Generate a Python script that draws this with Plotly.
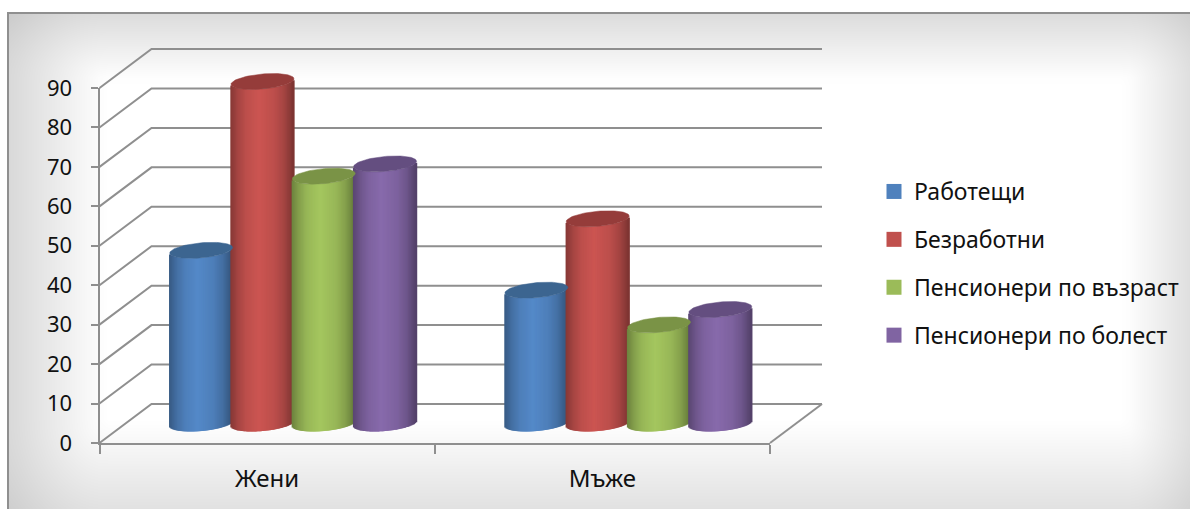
import numpy as np
import plotly.graph_objects as go

# Chart data
categories = ["Жени", "Мъже"]
series_names = ["Работещи", "Безработни", "Пенсионери по възраст", "Пенсионери по болест"]
rabotesti = [43.9, 33.8]
bezrabotni = [86.7, 51.9]
pens_vazrast = [62.7, 25.0]
pens_bolest = [65.8, 28.9]
series_values = [rabotesti, bezrabotni, pens_vazrast, pens_bolest]
y_ticks = [0, 10, 20, 30, 40, 50, 60, 70, 80, 90]

# Series colours: body base colour and darker cap colour
base_colors = ["#4F81BD", "#C0504D", "#9BBB59", "#8064A2"]
cap_colors = ["#3C6590", "#953C3A", "#7A9346", "#644E80"]

W, H = 1190, 509
FONT = "Noto Sans"
INK = "#111111"
RULE = "#8F8F8F"

# Plot rectangle in pixels, front plane of the oblique 3D box
PX_L, PX_R, PX_B, PX_T = 99.5, 770.0, 443.0, 88.0
X_MAX, Y_MAX = 2.0, 90.0
px_x = (PX_R - PX_L) / X_MAX
px_y = (PX_B - PX_T) / Y_MAX

# Wider drawing area for the box and cylinders, since lines clip to their subplot
PAD_L, PAD_R, PAD_B, PAD_T = 90.0, 830.0, 452.0, 40.0
ext_x = [(PAD_L - PX_L) / px_x, (PAD_R - PX_L) / px_x]
ext_y = [(PX_B - PAD_B) / px_y, (PX_B - PAD_T) / px_y]

# Box depth and cylinder proportions, in axis units
DEPTH_X = 52 / px_x
DEPTH_Y = 39 / px_y
SPACING = 61.3 / px_x
CYL_R = 29.6 / px_x
CYL_SKEW = 10.7 / px_x
CYL_B = 8.0 / px_y
HALF_W = float(np.hypot(CYL_R, CYL_SKEW))
N_STRIPS = 56

# Horizontal lighting across a cylinder body
shade_u = [0.0, 0.05, 0.12, 0.25, 0.45, 0.70, 0.85, 0.95, 1.0]
shade_k = [0.70, 0.76, 0.86, 0.98, 1.06, 0.98, 0.86, 0.72, 0.64]


def scaled(hex_color, k):
    rgb = [int(hex_color[i:i + 2], 16) for i in (1, 3, 5)]
    r, g, b = [min(255, int(round(c * k))) for c in rgb]
    return f"rgb({r},{g},{b})"


t0 = np.arctan2(CYL_SKEW, CYL_R)
arc = np.linspace(t0 + np.pi, t0 + 2 * np.pi, 200)
arc_x = CYL_R * np.cos(arc) + CYL_SKEW * np.sin(arc)
arc_y = CYL_B * np.sin(arc)
ring = np.linspace(0, 2 * np.pi, 90)
ring_x = CYL_R * np.cos(ring) + CYL_SKEW * np.sin(ring)
ring_y = CYL_B * np.sin(ring)

fig = go.Figure()

# Backdrop: white centre fading to grey towards the frame, with rounded contours
gx = np.linspace(8, W, 120)
gy = np.linspace(14, H, 56)
fx = np.clip((105 - gx) / 95, 0, 1) * 38 + np.clip((gx - 1125) / 65, 0, 1) * 32
fy = np.clip((80 - gy) / 66, 0, 1) * 35 + np.clip((gy - 420) / 89, 0, 1) * 30
backdrop = 255 - np.sqrt(fx[None, :] ** 2 + fy[:, None] ** 2)
fig.add_trace(go.Heatmap(
    x=gx, y=gy, z=backdrop, zmin=185, zmax=255, zsmooth="best", showscale=False,
    colorscale=[[0, "rgb(185,185,185)"], [1, "rgb(255,255,255)"]],
    hoverinfo="skip", xaxis="x", yaxis="y",
))

# Placeholder on the axis subplot so its labelled axes are drawn
fig.add_trace(go.Scatter(
    x=[None], y=[None], mode="lines", showlegend=False, hoverinfo="skip",
    xaxis="x2", yaxis="y2",
))

# Walls and floor of the box, behind the cylinders
for v in y_ticks:
    fig.add_trace(go.Scatter(
        x=[0, DEPTH_X, X_MAX + DEPTH_X], y=[v, v + DEPTH_Y, v + DEPTH_Y],
        mode="lines", line=dict(color=RULE, width=2),
        showlegend=False, hoverinfo="skip", xaxis="x3", yaxis="y3",
    ))
fig.add_trace(go.Scatter(
    x=[X_MAX, X_MAX + DEPTH_X], y=[0, DEPTH_Y],
    mode="lines", line=dict(color=RULE, width=2),
    showlegend=False, hoverinfo="skip", xaxis="x3", yaxis="y3",
))

# Cylinders: each body is a run of narrow shaded bars with a curved base, plus a cap
strip_u = (np.arange(N_STRIPS) + 0.5) / N_STRIPS
strip_w = 2 * HALF_W / N_STRIPS
strip_colors = np.interp(strip_u, shade_u, shade_k)
strip_dx = (strip_u - 0.5) * 2 * HALF_W
strip_low = np.interp(strip_dx, arc_x, arc_y)

for s, values in enumerate(series_values):
    offset = (s - 1.5) * SPACING
    for c, value in enumerate(values):
        cx = c + 0.5 + DEPTH_X / 2 + offset
        cy = DEPTH_Y / 2
        fig.add_trace(go.Bar(
            x=cx + strip_dx,
            y=[value] * N_STRIPS,
            base=cy + strip_low,
            width=strip_w * 2.2,
            marker=dict(color=[scaled(base_colors[s], k) for k in strip_colors],
                        line=dict(width=0)),
            showlegend=False, hoverinfo="skip", xaxis="x4", yaxis="y4",
        ))
        fig.add_trace(go.Scatter(
            x=cx + ring_x, y=cy + value + ring_y,
            mode="lines", fill="toself", fillcolor=cap_colors[s],
            line=dict(width=0.5, color=cap_colors[s]),
            showlegend=False, hoverinfo="skip", xaxis="x4", yaxis="y4",
        ))

# Legend entries
for s, name in enumerate(series_names):
    fig.add_trace(go.Scatter(
        x=[None], y=[None], mode="markers", name=name, legendgroup=name,
        marker=dict(symbol="square", size=15, color=base_colors[s], line=dict(width=0)),
        xaxis="x4", yaxis="y4",
    ))

dom_x = [PX_L / W, PX_R / W]
dom_y = [(H - PX_B) / H, (H - PX_T) / H]
ext_dom_x = [PAD_L / W, PAD_R / W]
ext_dom_y = [(H - PAD_B) / H, (H - PAD_T) / H]
hidden = dict(visible=False, fixedrange=True)

fig.update_layout(
    width=W, height=H, margin=dict(l=0, r=0, t=0, b=0, autoexpand=False),
    paper_bgcolor="white", plot_bgcolor="rgba(0,0,0,0)",
    barmode="overlay", hovermode=False,
    font=dict(family=FONT, color=INK, size=21),
    xaxis=dict(domain=[8.5 / W, 1], range=[8.5, W], showgrid=False, zeroline=False,
               showticklabels=False, ticks="", showline=True, side="top",
               linecolor=RULE, linewidth=2, fixedrange=True),
    yaxis=dict(domain=[0, 1 - 14 / H], range=[H, 14], showgrid=False, zeroline=False,
               showticklabels=False, ticks="", showline=True, side="left",
               linecolor=RULE, linewidth=2, fixedrange=True),
    xaxis2=dict(domain=dom_x, range=[0, X_MAX], anchor="y2", showgrid=False, zeroline=False,
                showline=True, linecolor=RULE, linewidth=2,
                tickmode="array", tickvals=[0.5, 1.5], ticktext=categories, ticks="",
                tickfont=dict(family=FONT, size=24, color=INK), ticklabelstandoff=13,
                minor=dict(tickmode="array", tickvals=[0, 1, 2], ticks="outside",
                           ticklen=9, tickwidth=2, tickcolor=RULE),
                fixedrange=True),
    yaxis2=dict(domain=dom_y, range=[0, Y_MAX], anchor="x2", showgrid=False, zeroline=False,
                showline=True, linecolor=RULE, linewidth=2,
                tickmode="array", tickvals=y_ticks, ticks="outside", ticklen=7, tickwidth=2,
                tickcolor=RULE, tickfont=dict(family=FONT, size=22, color=INK),
                ticklabelstandoff=14, fixedrange=True),
    xaxis3=dict(domain=ext_dom_x, range=ext_x, anchor="y3", **hidden),
    yaxis3=dict(domain=ext_dom_y, range=ext_y, anchor="x3", **hidden),
    xaxis4=dict(domain=ext_dom_x, range=ext_x, anchor="y4", **hidden),
    yaxis4=dict(domain=ext_dom_y, range=ext_y, anchor="x4", **hidden),
    legend=dict(x=874 / W, xanchor="left", y=1 - 170 / H, yanchor="top",
                bgcolor="rgba(0,0,0,0)", borderwidth=0,
                font=dict(family=FONT, size=23, color=INK),
                itemsizing="trace", itemclick=False, itemdoubleclick=False,
                tracegroupgap=15, traceorder="grouped"),
)

fig.write_html("out.html")
